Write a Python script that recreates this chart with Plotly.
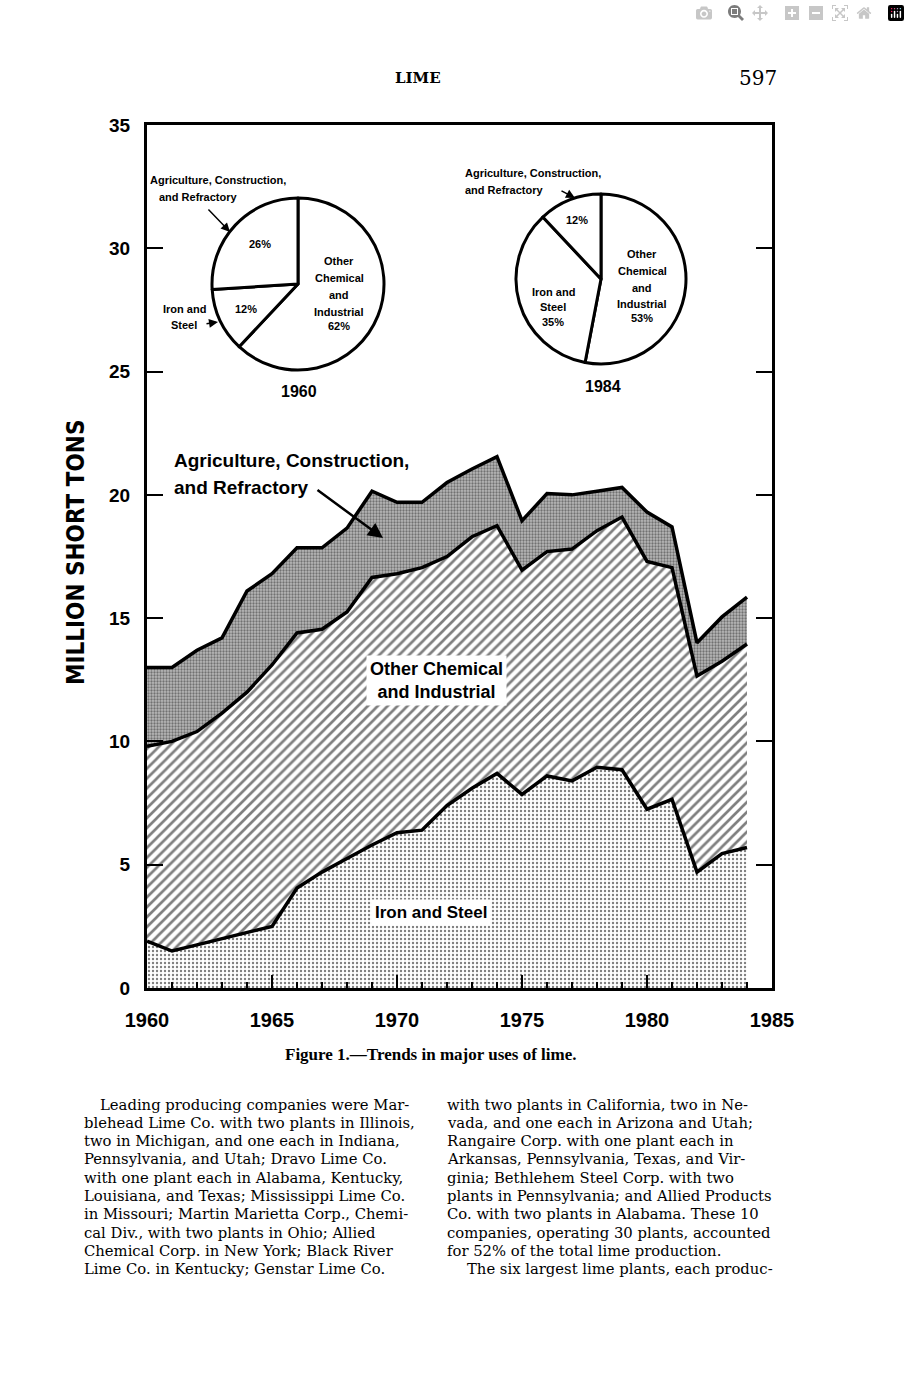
import plotly.graph_objects as go

# ---------------- data (million short tons) ----------------
years = list(range(1960, 1985))
iron_steel = [1.9, 1.5, 1.75, 2.0, 2.25, 2.5, 4.05, 4.7, 5.25, 5.8, 6.3, 6.4, 7.4,
              8.1, 8.7, 7.85, 8.6, 8.4, 8.95, 8.85, 7.25, 7.65, 4.7, 5.45, 5.7]
other_chem = [7.9, 8.5, 8.65, 9.15, 9.75, 10.6, 10.35, 9.85, 10.0, 10.85, 10.5, 10.65, 10.1,
              10.2, 10.05, 9.1, 9.1, 9.4, 9.6, 10.25, 10.05, 9.4, 7.95, 7.8, 8.25]
agri_constr = [3.2, 3.0, 3.3, 3.05, 4.1, 3.7, 3.45, 3.3, 3.4, 3.5, 2.9, 2.65, 3.0,
               2.75, 2.8, 2.0, 2.35, 2.2, 1.6, 1.2, 2.0, 1.65, 1.35, 1.8, 1.9]

pie_labels = ["Other Chemical and Industrial", "Iron and Steel",
              "Agriculture, Construction, and Refractory"]
pie_1960 = [62, 12, 26]
pie_1984 = [53, 35, 12]

x_ticks = [1960, 1965, 1970, 1975, 1980, 1985]
y_ticks = [0, 5, 10, 15, 20, 25, 30, 35]

W, H = 910, 1379


def P(px, py):
    return px / W, 1 - py / H


SANS = "Liberation Sans, Arial, sans-serif"
SERIF = "DejaVu Serif, serif"

fig = go.Figure()

fig.add_trace(go.Scatter(
    x=years, y=iron_steel, name="Iron and Steel", stackgroup="s", mode="lines",
    line=dict(color="black", width=3.5),
    fillpattern=dict(shape=".", fgcolor="black", bgcolor="white", size=4, solidity=0.28),
))
fig.add_trace(go.Scatter(
    x=years, y=other_chem, name="Other Chemical and Industrial", stackgroup="s", mode="lines",
    line=dict(color="black", width=3.5),
    fillpattern=dict(shape="/", fgcolor="black", bgcolor="white", size=7, solidity=0.38),
))
fig.add_trace(go.Scatter(
    x=years, y=agri_constr, name="Agriculture, Construction, and Refractory", stackgroup="s",
    mode="lines", line=dict(color="black", width=3.5),
    fillpattern=dict(shape=".", fgcolor="#2a2a2a", bgcolor="#b8b8b8", size=3, solidity=0.45),
))


def pie(values, cx, cy, r):
    x0, y1 = P(cx - r, cy - r)
    x1, y0 = P(cx + r, cy + r)
    return go.Pie(values=values, labels=pie_labels, sort=False, direction="clockwise",
                  rotation=0, textinfo="none", hoverinfo="label+percent",
                  marker=dict(colors=["white"] * 3, line=dict(color="black", width=3)),
                  domain=dict(x=[x0, x1], y=[y0, y1]), showlegend=False)


fig.add_trace(pie(pie_1960, 298, 284, 86))
fig.add_trace(pie(pie_1984, 601, 279, 85))

x0, _ = P(147, 0)
x1, _ = P(772, 0)
_, y0 = P(0, 988)
_, y1 = P(0, 125)

fig.update_layout(
    width=W, height=H, margin=dict(l=0, r=0, t=0, b=0, pad=0, autoexpand=False),
    paper_bgcolor="white", plot_bgcolor="white", showlegend=False,
    xaxis=dict(domain=[x0, x1], range=[1960, 1985], tickvals=x_ticks, automargin=False,
               ticktext=[str(v) for v in x_ticks], ticks="inside", ticklen=13, tickwidth=2,
               tickcolor="black", showline=True, linecolor="black", linewidth=3, mirror=True,
               showgrid=False, zeroline=False, ticklabelstandoff=12,
               tickfont=dict(family=SANS, size=20, color="black", weight="bold"),
               minor=dict(dtick=1, ticks="inside", ticklen=6, tickwidth=1.5, tickcolor="black")),
    yaxis=dict(domain=[y0, y1], range=[0, 35], tickvals=y_ticks, ticks="inside", ticklen=16,
               automargin=False,
               tickwidth=2, tickcolor="black", showline=True, linecolor="black", linewidth=3,
               mirror="ticks", showgrid=False, zeroline=False, ticklabelstandoff=10,
               tickfont=dict(family=SANS, size=19, color="black", weight="bold")),
)

anns = []


def ann(text, px, py, size, family=SANS, bold=True, xanchor="center", bg=None):
    x, y = P(px, py)
    d = dict(text=text, x=x, y=y, xref="paper", yref="paper", showarrow=False,
             xanchor=xanchor, yanchor="middle",
             font=dict(family=family, size=size, color="black",
                       weight="bold" if bold else "normal"))
    if bg:
        d.update(bgcolor=bg, borderpad=3)
    anns.append(d)


def arrow(hx, hy, tx, ty, width=2):
    x, y = P(hx, hy)
    anns.append(dict(text="", x=x, y=y, xref="paper", yref="paper", showarrow=True,
                     ax=tx - hx, ay=ty - hy, arrowhead=2, arrowsize=1.2,
                     arrowwidth=width, arrowcolor="black"))


# page header / caption
ann("LIME", 418, 78, 15, family=SERIF)
ann("597", 779, 78, 20, family=SERIF, bold=False, xanchor="right")
ann("Figure 1.\u2014Trends in major uses of lime.", 431, 1054, 17, family="Liberation Serif, serif")

# y-axis title
x, y = P(76, 553)
anns.append(dict(text="MILLION SHORT TONS", x=x, y=y, xref="paper", yref="paper",
                 showarrow=False, textangle=-90, xanchor="center", yanchor="middle",
                 font=dict(family="DejaVu Sans Condensed, Liberation Sans Narrow, sans-serif",
                           size=24, color="black", weight="bold")))

# main chart labels
ann("Agriculture, Construction,", 172, 460, 19, xanchor="left")
ann("and Refractory", 172, 487, 19, xanchor="left")
arrow(383, 538, 316, 489, width=2.5)
ann("Other Chemical<br>and Industrial", 436, 681, 18, bg="white")
ann("Iron and Steel", 431, 912, 17, bg="white")

# pie 1960 labels
ps = 11
ann("Agriculture, Construction,", 148, 180, ps, xanchor="left")
ann("and Refractory", 157, 197, ps, xanchor="left")
arrow(230, 232, 207, 208, width=1.5)
ann("26%", 260, 244, ps)
ann("12%", 246, 309, ps)
ann("Iron and", 184, 309, ps)
ann("Steel", 184, 325, ps)
arrow(218, 322, 205, 324, width=1.5)
for t, yy in [("Other", 261), ("Chemical", 278), ("and", 295), ("Industrial", 312), ("62%", 326)]:
    ann(t, 339, yy, ps)
ann("1960", 299, 392, 16)

# pie 1984 labels
ann("Agriculture, Construction,", 463, 173, ps, xanchor="left")
ann("and Refractory", 463, 190, ps, xanchor="left")
arrow(575, 198, 560, 190, width=1.5)
ann("12%", 577, 220, ps)
for t, yy in [("Iron and", 292), ("Steel", 307), ("35%", 322)]:
    ann(t, 553, yy, ps)
for t, yy in [("Other", 254), ("Chemical", 271), ("and", 288), ("Industrial", 304), ("53%", 318)]:
    ann(t, 642, yy, ps)
ann("1984", 603, 386, 16)

# body text
left_col = [
    "Leading producing companies were Mar-",
    "blehead Lime Co. with two plants in Illinois,",
    "two in Michigan, and one each in Indiana,",
    "Pennsylvania, and Utah; Dravo Lime Co.",
    "with one plant each in Alabama, Kentucky,",
    "Louisiana, and Texas; Mississippi Lime Co.",
    "in Missouri; Martin Marietta Corp., Chemi-",
    "cal Div., with two plants in Ohio; Allied",
    "Chemical Corp. in New York; Black River",
    "Lime Co. in Kentucky; Genstar Lime Co.",
]
right_col = [
    "with two plants in California, two in Ne-",
    "vada, and one each in Arizona and Utah;",
    "Rangaire Corp. with one plant each in",
    "Arkansas, Pennsylvania, Texas, and Vir-",
    "ginia; Bethlehem Steel Corp. with two",
    "plants in Pennsylvania; and Allied Products",
    "Co. with two plants in Alabama. These 10",
    "companies, operating 30 plants, accounted",
    "for 52% of the total lime production.",
    "The six largest lime plants, each produc-",
]
for i, t in enumerate(left_col):
    ann(t, 98 if i == 0 else 82, 1104 + i * 18.3, 14.8, family=SERIF, bold=False, xanchor="left")
for i, t in enumerate(right_col):
    ann(t, 465 if i == 9 else 445, 1104 + i * 18.3, 14.8, family=SERIF, bold=False, xanchor="left")

fig.update_layout(annotations=anns)

fig.write_html("out.html", post_script="document.body.style.margin='0';")
